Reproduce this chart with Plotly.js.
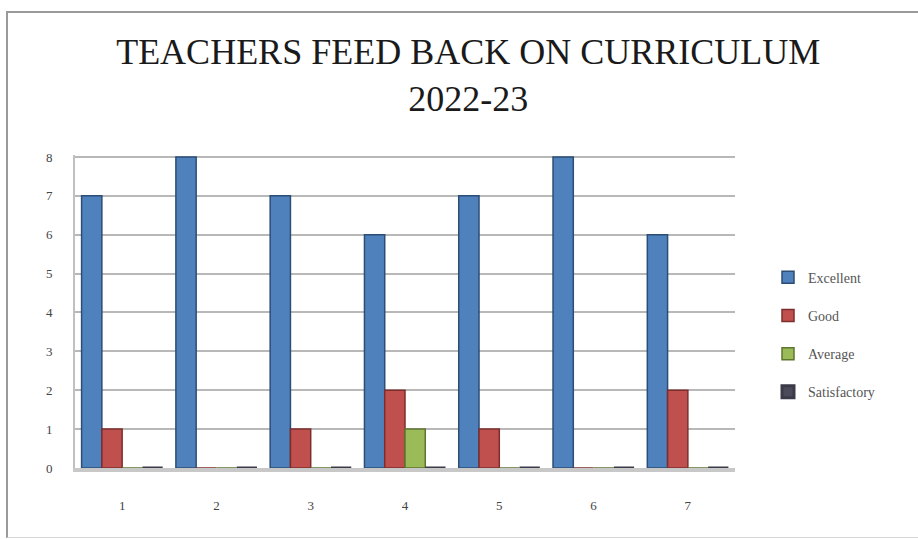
<!DOCTYPE html>
<html>
<head>
<meta charset="utf-8">
<script src="https://cdn.plot.ly/plotly-3.0.1.min.js"></script>
<style>
html,body{margin:0;padding:0;background:#fff;}
#wrap{position:relative;width:918px;height:539px;overflow:hidden;}
#chart{width:918px;height:539px;}
#frame{position:absolute;left:6px;top:11px;width:930px;height:524px;border-top:2px solid #9a9a9a;border-left:2px solid #9a9a9a;border-bottom:1px solid #d8d8d8;pointer-events:none;}
</style>
</head>
<body>
<div id="wrap"><div id="chart"></div><div id="frame"></div></div>
<script>
const categories = ['1','2','3','4','5','6','7'];
const excellent = [7, 8, 7, 6, 7, 8, 6];
const good = [1, 0, 1, 2, 1, 0, 2];
const average = [0, 0, 0, 1, 0, 0, 0];
const satisfactory = [0, 0, 0, 0, 0, 0, 0];
const seriesNames = ['Excellent', 'Good', 'Average', 'Satisfactory'];
const yTicks = [0,1,2,3,4,5,6,7,8];

const colors = ['#4F81BD', '#C0504D', '#9BBB59', '#4a4a5a'];
const lineColors = ['#2c4d75', '#7d2e2c', '#5f7530', '#3a3a48'];
const lineWidths = [1.5, 1.5, 1.5, 3];
const values = [excellent, good, average, satisfactory];

const traces = values.map((v, i) => ({
  type: 'bar',
  x: categories,
  y: v,
  name: seriesNames[i],
  legendgroup: 'g' + i,
  marker: {color: colors[i], line: {color: lineColors[i], width: lineWidths[i]}},
  hoverinfo: 'x+y+name'
}));

const serif = 'Liberation Serif, Times New Roman, serif';
const layout = {
  width: 918, height: 539,
  paper_bgcolor: '#ffffff', plot_bgcolor: '#ffffff',
  margin: {l: 75, r: 183, t: 155, b: 71},
  barmode: 'group', bargap: 0.14, bargroupgap: 0,
  title: {
    text: 'TEACHERS FEED BACK ON CURRICULUM<br>2022-23',
    font: {family: serif, size: 36, color: '#1a1a1a'},
    x: 0.51, xanchor: 'center', yref: 'container', y: 0.881, yanchor: 'middle'
  },
  xaxis: {
    type: 'category',
    tickfont: {family: serif, size: 13, color: '#444'},
    showgrid: false, showline: true, linecolor: '#c8c8c8', linewidth: 4,
    ticks: '', ticklen: 0, ticklabelstandoff: 22
  },
  yaxis: {
    range: [0, 8.05], tickvals: yTicks, ticktext: yTicks.map(String),
    tickfont: {family: serif, size: 13, color: '#444'},
    showgrid: true, gridcolor: '#b8b8b8', gridwidth: 2,
    showline: true, linecolor: '#c0c0c0', linewidth: 2,
    zeroline: false, ticks: '', ticklabelstandoff: 18
  },
  legend: {
    x: 1.05, xanchor: 'left', y: 0.426, yanchor: 'middle',
    font: {family: serif, size: 14, color: '#555'},
    tracegroupgap: 17, traceorder: 'grouped', itemwidth: 30
  },
  showlegend: true
};

Plotly.newPlot('chart', traces, layout, {displayModeBar: false, staticPlot: true});
</script>
</body>
</html>
